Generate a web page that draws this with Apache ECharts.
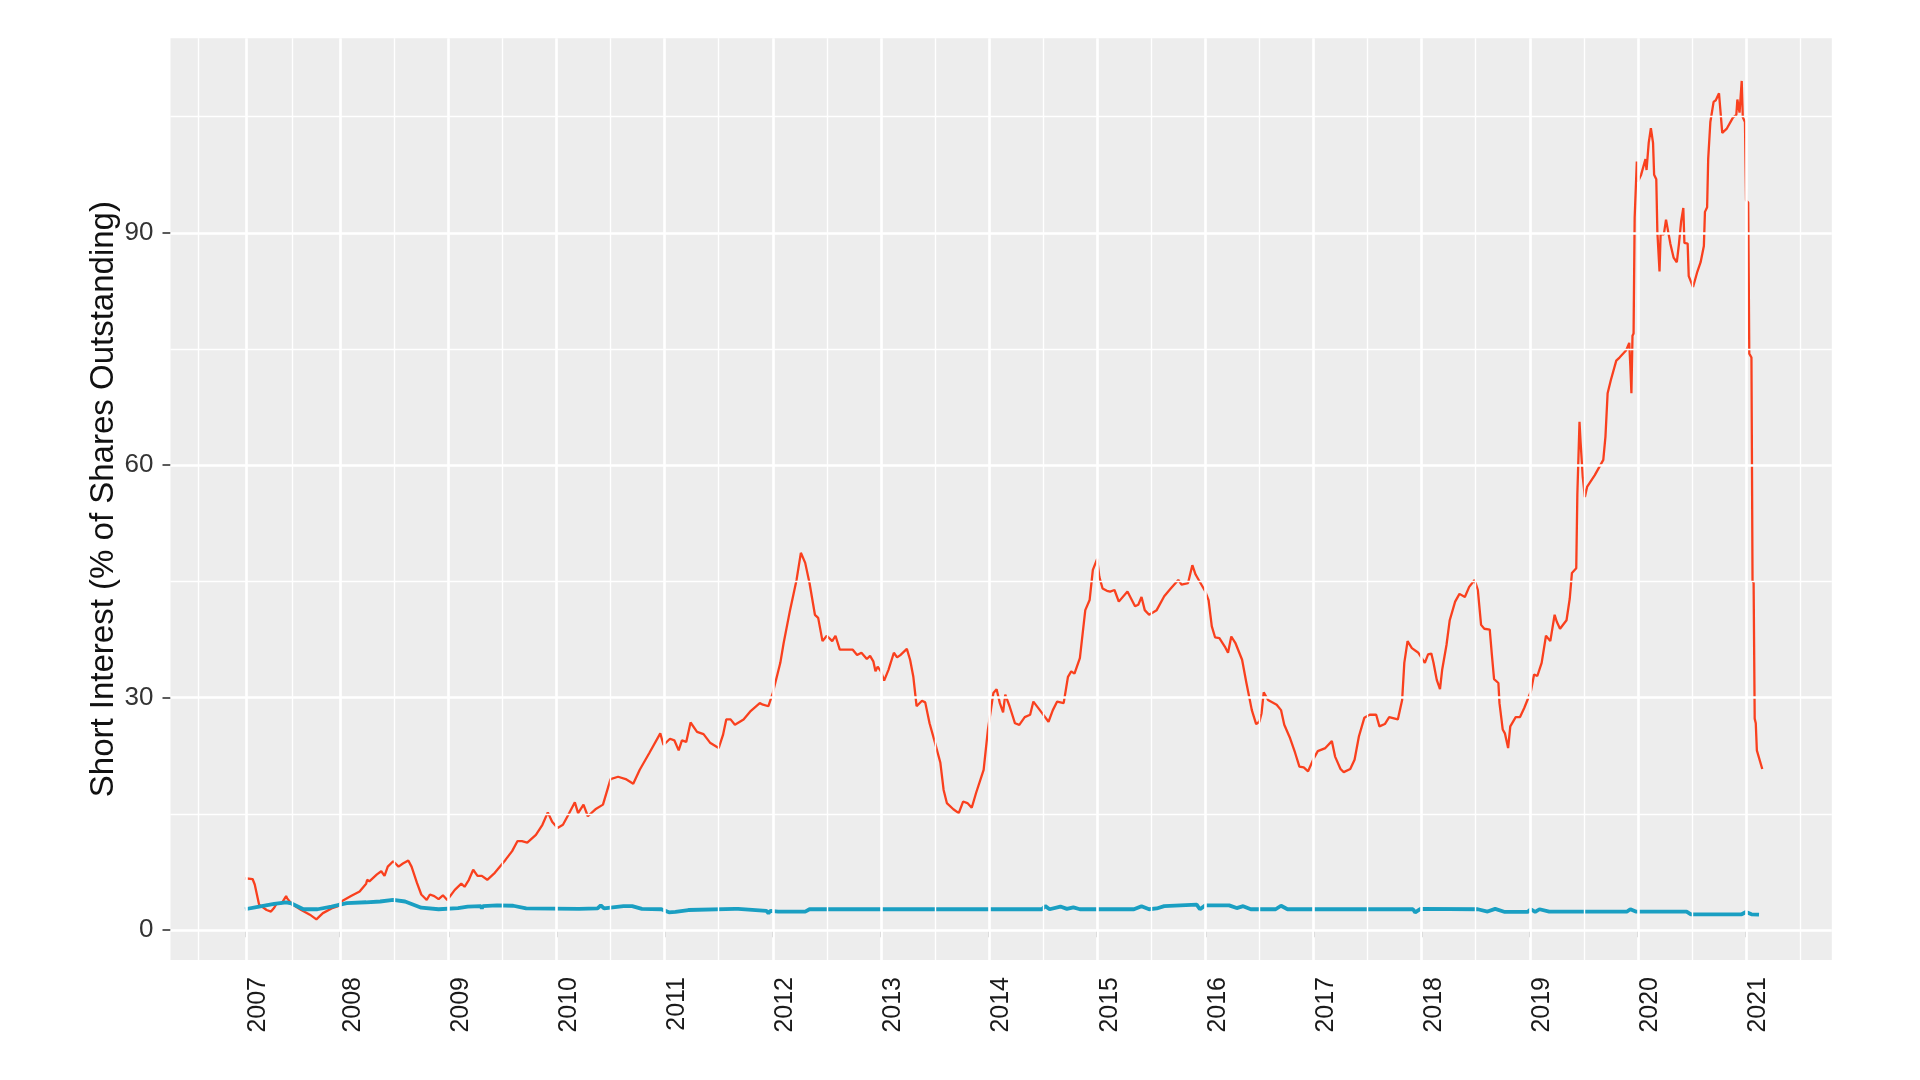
<!DOCTYPE html>
<html><head><meta charset="utf-8">
<script src="https://cdn.jsdelivr.net/npm/echarts@6/dist/echarts.min.js"></script>
<style>html,body{margin:0;padding:0;background:#fff;}#c{width:1920px;height:1080px;}</style>
</head><body><div id="c"></div>
<script>
// ---- tick labels ----
const xTickPositions = [2007.125, 2008, 2009, 2010, 2011, 2012, 2013, 2014, 2015, 2016, 2017, 2018, 2019, 2020, 2021];
const xTickLabels = ['2007','2008','2009','2010','2011','2012','2013','2014','2015','2016','2017','2018','2019','2020','2021'];
const yTickValues = [0, 30, 60, 90];
const yMinorValues = [15, 45, 75, 105];

// ---- red series (decimal year, % of shares outstanding) ----
const redDates = [
2007.12,2007.19,2007.21,2007.25,2007.32,2007.36,2007.39,2007.41,2007.46,2007.50,2007.51,2007.55,2007.64,2007.72,2007.78,2007.84,2007.92,2007.98,
2008.01,2008.10,2008.18,2008.24,2008.25,2008.27,2008.34,2008.38,2008.41,2008.44,2008.49,2008.54,2008.58,2008.63,2008.66,2008.71,2008.75,2008.80,2008.83,2008.87,2008.91,2008.95,2008.99,
2009.06,2009.12,2009.15,2009.19,2009.23,2009.27,2009.31,2009.36,2009.43,2009.53,2009.59,2009.64,2009.68,2009.73,2009.81,2009.87,2009.92,2009.96,
2010.01,2010.06,2010.11,2010.17,2010.20,2010.25,2010.29,2010.36,2010.43,2010.50,2010.57,2010.64,2010.71,2010.77,2010.86,2010.96,2010.99,
2011.05,2011.09,2011.13,2011.16,2011.20,2011.24,2011.30,2011.36,2011.42,2011.50,2011.54,2011.57,2011.61,2011.65,2011.73,2011.79,2011.88,2011.91,2011.96,
2012.00,2012.07,2012.10,2012.16,2012.22,2012.26,2012.30,2012.34,2012.39,2012.42,2012.46,2012.50,2012.55,2012.58,2012.62,2012.74,2012.78,2012.82,2012.87,2012.90,2012.93,2012.95,2012.97,
2013.00,2013.03,2013.07,2013.12,2013.15,2013.18,2013.24,2013.27,2013.30,2013.33,2013.38,2013.41,2013.45,2013.50,2013.55,2013.58,2013.61,2013.67,2013.72,2013.76,2013.80,2013.84,2013.88,2013.95,2013.99,
2014.04,2014.07,2014.10,2014.13,2014.15,2014.19,2014.24,2014.28,2014.33,2014.38,2014.41,2014.47,2014.55,2014.59,2014.63,2014.69,2014.73,2014.76,2014.79,2014.84,2014.89,2014.93,2014.96,
2015.00,2015.02,2015.05,2015.09,2015.12,2015.16,2015.20,2015.28,2015.35,2015.38,2015.41,2015.44,2015.48,2015.55,2015.62,2015.68,2015.75,2015.78,2015.84,2015.88,2015.91,
2016.00,2016.03,2016.06,2016.09,2016.13,2016.18,2016.21,2016.24,2016.28,2016.34,2016.38,2016.43,2016.47,2016.50,2016.52,2016.54,2016.58,2016.66,2016.70,2016.73,2016.78,2016.83,2016.87,2016.91,2016.95,
2017.00,2017.04,2017.11,2017.17,2017.20,2017.25,2017.28,2017.34,2017.38,2017.42,2017.47,2017.52,2017.58,2017.61,2017.66,2017.70,2017.78,2017.82,2017.84,2017.87,2017.91,2017.97,
2018.03,2018.06,2018.09,2018.11,2018.14,2018.17,2018.19,2018.23,2018.26,2018.31,2018.35,2018.40,2018.44,2018.49,2018.52,2018.55,2018.58,2018.63,2018.65,2018.67,2018.71,2018.72,2018.75,2018.77,2018.80,2018.82,2018.87,2018.91,2018.95,
2019.01,2019.04,2019.07,2019.11,2019.15,2019.19,2019.23,2019.25,2019.28,2019.34,2019.37,2019.39,2019.43,2019.44,2019.45,2019.46,2019.47,2019.49,2019.51,2019.53,2019.60,2019.68,2019.70,2019.72,2019.75,2019.80,2019.83,2019.89,2019.92,2019.93,2019.94,2019.95,2019.96,2019.97,2019.99,
2020.00,2020.03,2020.07,2020.08,2020.10,2020.12,2020.14,2020.15,2020.17,2020.18,2020.20,2020.21,2020.24,2020.26,2020.30,2020.33,2020.36,2020.38,2020.40,2020.42,2020.43,2020.46,2020.47,2020.51,2020.55,2020.58,2020.61,2020.62,2020.64,2020.65,2020.67,2020.70,2020.72,2020.75,2020.76,2020.78,2020.82,2020.88,2020.91,2020.92,2020.94,2020.96,2020.97,2020.99,
2021.00,2021.02,2021.03,2021.05,2021.06,2021.07,2021.08,2021.09,2021.10,2021.15
];
const redValues = [
6.7,6.6,5.9,3.3,2.6,2.4,2.9,3.4,3.5,4.4,4.1,3.4,2.6,2.0,1.4,2.2,2.8,3.1,
3.7,4.4,5.0,6.0,6.5,6.3,7.2,7.6,7.0,8.2,8.9,8.2,8.6,9.0,8.2,6.1,4.6,3.9,4.6,4.4,4.0,4.5,3.9,
5.2,6.0,5.6,6.5,7.8,7.0,7.0,6.5,7.4,9.1,10.2,11.5,11.5,11.3,12.3,13.6,15.2,14.0,
13.2,13.6,14.9,16.5,15.1,16.2,14.7,15.6,16.2,19.5,19.8,19.5,18.9,20.7,22.9,25.4,23.9,
24.7,24.5,23.2,24.5,24.3,26.8,25.6,25.3,24.2,23.5,25.2,27.2,27.2,26.5,27.2,28.2,29.3,29.1,28.9,
30.6,34.5,37.0,41.3,45.2,48.7,47.4,44.8,40.7,40.3,37.3,38.0,37.3,38.0,36.2,36.2,35.5,35.8,35.0,35.4,34.7,33.4,34.0,
33.4,32.2,33.6,35.8,35.2,35.5,36.3,34.9,32.7,28.9,29.6,29.4,26.7,24.2,21.6,18.1,16.4,15.6,15.1,16.6,16.4,15.8,17.7,20.7,25.9,
30.6,31.1,29.3,28.1,30.4,28.9,26.7,26.5,27.5,27.8,29.5,28.4,26.9,28.4,29.5,29.3,32.7,33.4,33.1,35.1,41.3,42.6,46.5,
47.9,45.6,44.1,43.8,43.7,43.9,42.4,43.7,41.8,42.0,43.0,41.3,40.7,41.3,43.1,44.1,45.2,44.6,44.8,47.1,45.9,
43.7,42.6,39.2,37.8,37.7,36.6,35.8,37.9,37.0,34.9,31.9,28.4,26.6,26.9,28.0,30.7,29.7,29.1,28.4,26.5,24.9,22.9,21.1,21.0,20.5,
22.1,23.1,23.5,24.4,22.4,20.8,20.4,20.8,22.0,25.0,27.4,27.8,27.8,26.3,26.6,27.5,27.2,29.7,34.5,37.3,36.4,35.8,
34.5,35.6,35.7,34.5,32.3,31.1,33.6,36.8,40.0,42.4,43.4,43.0,44.3,45.2,43.9,39.4,38.9,38.8,35.5,32.4,31.9,29.3,25.9,25.4,23.5,26.3,27.5,27.5,28.7,
30.8,33.0,32.8,34.5,38.0,37.3,40.7,39.8,38.9,40.0,42.8,46.1,46.7,56.2,56.4,65.6,63.0,58.5,55.9,57.2,58.7,60.7,63.7,69.3,71.0,73.5,73.9,74.8,75.8,72.8,69.3,76.7,77.0,91.9,99.2,
96.6,97.5,99.5,98.1,101.6,103.5,101.6,97.5,96.9,90.1,85.0,89.8,89.8,91.7,88.6,86.8,86.2,88.6,91.5,93.2,88.7,88.6,84.4,83.0,85.0,86.2,88.3,92.7,93.3,99.5,104.3,106.9,107.1,108.0,106.3,102.9,103.4,104.9,105.2,107.2,105.5,109.6,104.9,104.3,
94.2,93.9,74.4,73.9,45.1,44.8,27.3,26.7,23.2,20.8
];

// ---- teal series ----
const tealDates = [
2007.12,2007.25,2007.39,2007.50,2007.55,2007.66,2007.79,2007.92,2008.06,2008.24,2008.37,2008.49,2008.60,2008.75,2008.91,
2009.09,2009.18,2009.30,2009.31,2009.32,2009.45,2009.60,2009.72,2010.21,2010.38,2010.41,2010.44,2010.62,2010.70,2010.79,2010.97,
2011.04,2011.10,2011.22,2011.65,2011.66,2011.68,2011.94,2011.96,2011.98,2012.05,2012.30,2012.34,
2014.49,2014.52,2014.56,2014.66,2014.72,2014.78,2014.84,2015.34,2015.41,2015.48,2015.55,2015.62,2015.92,2015.95,
2016.00,2016.22,2016.29,2016.35,2016.42,2016.65,2016.70,2016.76,2017.92,2017.94,2017.99,
2018.52,2018.61,2018.68,2018.77,2018.98,2019.01,2019.05,2019.09,2019.18,2019.90,2019.93,2019.98,
2020.45,2020.49,2020.96,2021.00,2021.05,2021.12
];
const tealValues = [
2.7,3.05,3.4,3.6,3.45,2.7,2.7,3.05,3.5,3.6,3.7,3.9,3.7,2.9,2.7,
2.85,3.05,3.1,2.8,3.1,3.2,3.15,2.8,2.75,2.8,3.2,2.8,3.1,3.1,2.75,2.7,
2.3,2.35,2.6,2.75,3.0,2.75,2.5,2.2,2.5,2.4,2.4,2.7,
2.7,3.1,2.7,3.05,2.75,2.95,2.7,2.7,3.1,2.7,2.8,3.1,3.3,2.7,
3.2,3.2,2.85,3.1,2.7,2.7,3.15,2.7,2.7,2.3,2.75,
2.7,2.4,2.75,2.35,2.35,2.7,2.35,2.7,2.4,2.4,2.7,2.4,
2.4,2.05,2.05,2.35,2.05,2.0
];

const zip = (a, b) => a.map((d, i) => [d, b[i]]);

// minor vertical grid positions: midpoints between breaks, plus one beyond each end
const xMinor = [];
xMinor.push(xTickPositions[0] - (xTickPositions[1] - xTickPositions[0]) / 2);
for (let i = 0; i < xTickPositions.length - 1; i++) xMinor.push((xTickPositions[i] + xTickPositions[i + 1]) / 2);
const nT = xTickPositions.length;
xMinor.push(xTickPositions[nT - 1] + (xTickPositions[nT - 1] - xTickPositions[nT - 2]) / 2);

const MAJOR_W = 2.6, MINOR_W = 1.4;
const gridLines = [];
xMinor.forEach(v => gridLines.push({ xAxis: v, lineStyle: { width: MINOR_W } }));
yMinorValues.forEach(v => gridLines.push({ yAxis: v, lineStyle: { width: MINOR_W } }));
xTickPositions.forEach(v => gridLines.push({ xAxis: v, lineStyle: { width: MAJOR_W } }));
yTickValues.forEach(v => gridLines.push({ yAxis: v, lineStyle: { width: MAJOR_W } }));

const sans = "'Liberation Sans', Arial, sans-serif";

const chart = echarts.init(document.getElementById('c'), null, { renderer: 'canvas' });
chart.setOption({
  animation: false,
  backgroundColor: '#ffffff',
  grid: { left: 170.5, right: 88.2, top: 38.3, bottom: 120, show: true, backgroundColor: '#EDEDED', borderWidth: 0, outerBoundsMode: 'none', containLabel: false },
  xAxis: {
    type: 'value', min: 2006.431, max: 2021.793,
    axisLine: { show: false },
    axisTick: { show: true, customValues: xTickPositions, length: 7, lineStyle: { color: '#333333', width: 1.6 } },
    axisLabel: {
      customValues: xTickPositions, rotate: 90, margin: 17, verticalAlign: 'top',
      formatter: v => { const i = xTickPositions.findIndex(p => Math.abs(p - v) < 1e-6); return i >= 0 ? xTickLabels[i] : ''; },
      fontFamily: sans, fontSize: 25, color: '#1a1a1a'
    },
    splitLine: { show: false }
  },
  yAxis: {
    type: 'value', min: -3.85, max: 115.1,
    name: 'Short Interest (% of Shares Outstanding)', nameLocation: 'middle', nameRotate: 90, nameGap: 50,
    nameMoveOverlap: false,
    nameTextStyle: { fontFamily: sans, fontSize: 33, color: '#111111' },
    axisLine: { show: false },
    axisTick: { show: true, customValues: yTickValues, length: 8, lineStyle: { color: '#333333', width: 1.6 } },
    axisLabel: { customValues: yTickValues, margin: 17, fontFamily: sans, fontSize: 26, color: '#333333' },
    splitLine: { show: false }
  },
  series: [
    {
      type: 'line', name: 'grid', data: [[2006.431, -3.85]], symbol: 'none', silent: true, z: 1,
      lineStyle: { opacity: 0 },
      markLine: { silent: true, symbol: ['none', 'none'], label: { show: false }, animation: false,
        lineStyle: { color: '#ffffff', type: 'solid' }, emphasis: { disabled: true }, data: gridLines }
    },
    { type: 'line', name: 'red', data: zip(redDates, redValues), symbol: 'none', z: 3,
      lineStyle: { color: '#F9401E', width: 2.3 } },
    { type: 'line', name: 'teal', data: zip(tealDates, tealValues), symbol: 'none', z: 4,
      lineStyle: { color: '#1A9FC2', width: 3.8 } }
  ]
});
</script></body></html>
